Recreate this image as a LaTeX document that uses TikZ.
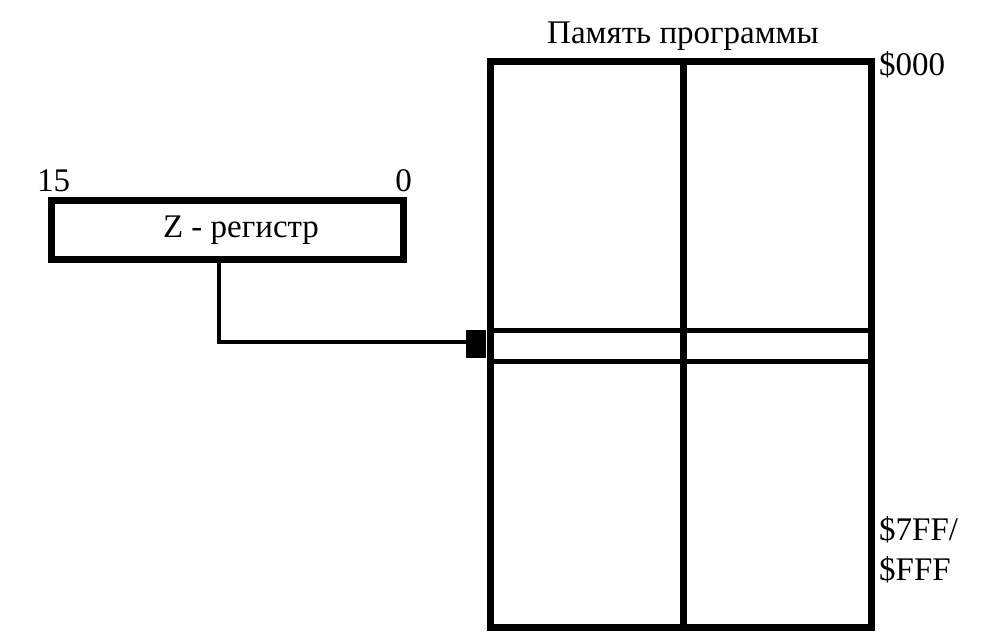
\documentclass[tikz,border=0pt]{standalone}
\usepackage{fontspec}
\setmainfont{Liberation Serif}
\begin{document}
\begin{tikzpicture}[x=1pt,y=-1pt,
  thickline/.style={line width=7pt},
  midline/.style={line width=5pt},
  thinline/.style={line width=4pt},
  lbl/.style={font=\fontsize{33}{35}\selectfont, inner sep=0pt}]
\useasboundingbox (0,0) rectangle (998,638);
% memory block
\draw[thickline] (490,61) rectangle (871,627);
\draw[thickline] (683,61) -- (683,627);
\draw[midline] (490,330) -- (871,330);
\draw[midline] (490,361) -- (871,361);
\coordinate (mem) at (476,342);
\fill (466,330) rectangle (486,358);
% register
\node[draw, line width=7pt, minimum width=352pt, minimum height=59pt, inner sep=0pt] (reg) at (227,229.5) {};
\node[lbl, anchor=base] (regtext) at (241,237) {Z - регистр};
\coordinate (turn) at (219,342);
\draw[thinline] (reg.south -| turn) -- (turn) -- (mem);
% labels
\node[lbl, anchor=base] (title) at (683,43) {Память программы};
\node[lbl, anchor=base west] (a0) at (879,75) {\$000};
\node[lbl, anchor=base west] (a1) at (879,540) {\$7FF/};
\node[lbl, anchor=base west] (a2) at (879,580) {\$FFF};
\node[lbl, anchor=base west] (b15) at (37,191) {15};
\node[lbl, anchor=base east] (b0) at (412,191) {0};
\end{tikzpicture}
\end{document}
